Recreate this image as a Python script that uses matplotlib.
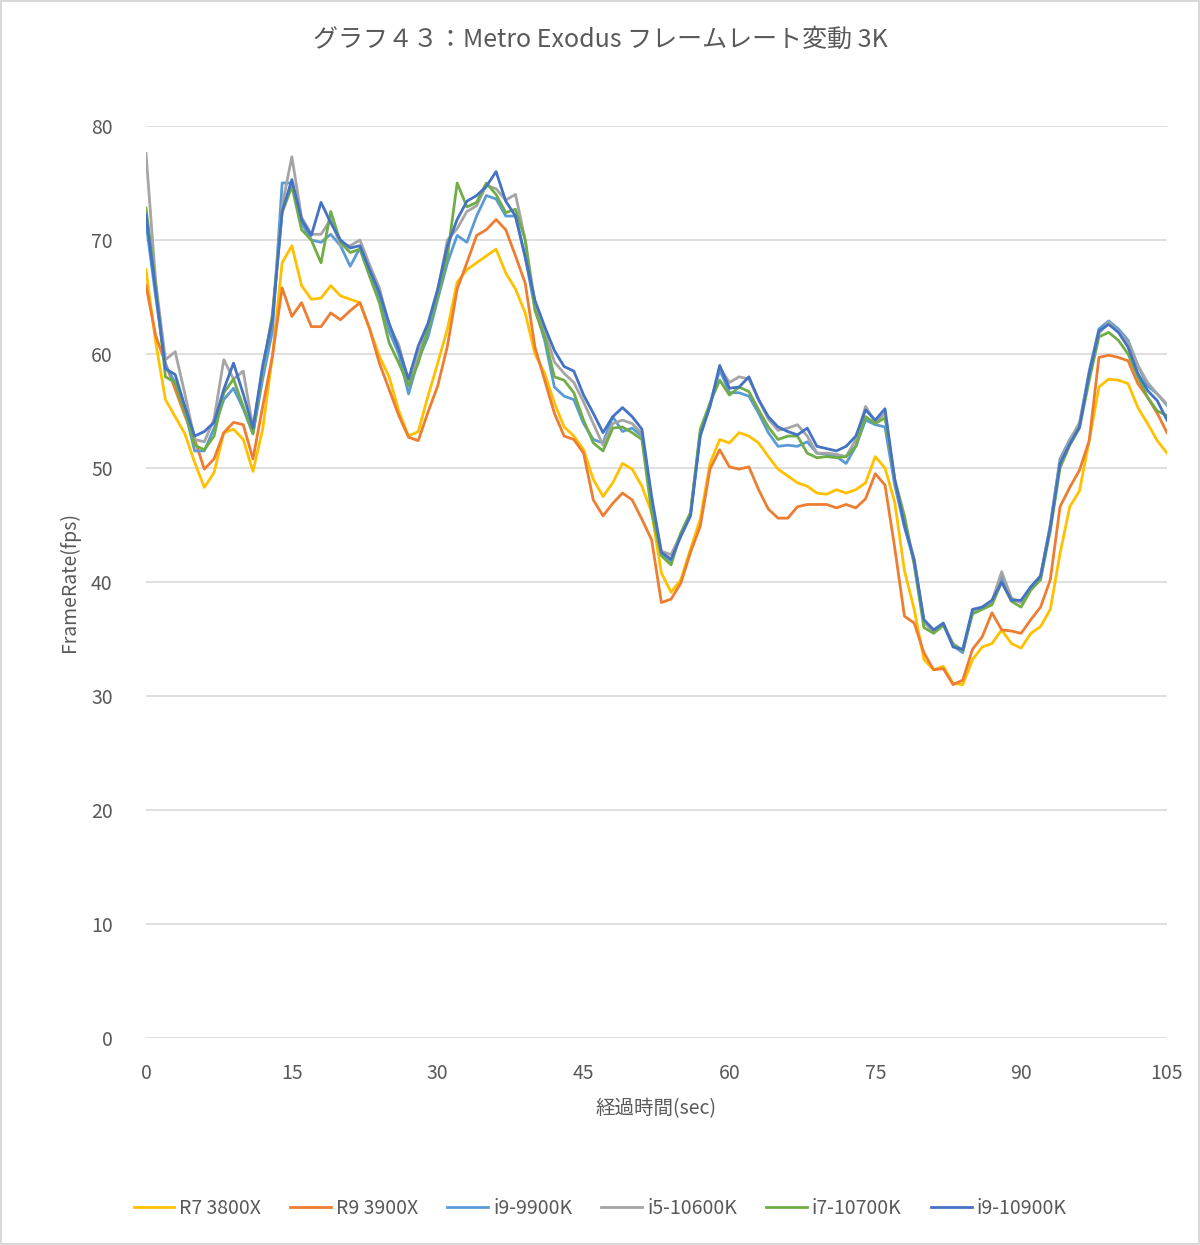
import matplotlib.pyplot as plt
import numpy as np

plt.rcParams['font.family'] = ['Noto Sans CJK JP', 'DejaVu Sans']

# elapsed time (sec), one sample per second
t = np.arange(0, 106)

r7_3800x = [67.4, 61, 56, 54.5, 53, 50.5, 48.3, 49.6, 53.1, 53.4,
            52.5, 49.7, 53.4, 59.8, 68, 69.5, 66, 64.8, 64.9, 66,
            65.1, 64.8, 64.5, 62.2, 59.8, 58, 55, 52.8, 53.2, 56.3,
            59.2, 62.2, 66.3, 67.4, 68, 68.6, 69.2, 67.1, 65.7, 63.6,
            60, 58.3, 55.7, 53.6, 52.8, 51.6, 49, 47.5, 48.7, 50.4,
            49.9, 48.4, 46.1, 40.8, 39.1, 40.2, 42.9, 45.5, 50.4, 52.5,
            52.2, 53.1, 52.8, 52.2, 51, 49.9, 49.3, 48.7, 48.4, 47.8,
            47.7, 48.1, 47.8, 48.1, 48.7, 51, 50, 47, 41, 37.6,
            33.2, 32.3, 32.6, 31.1, 31, 33.2, 34.3, 34.6, 35.8, 34.6,
            34.2, 35.5, 36.1, 37.6, 42.5, 46.6, 48, 52.4, 57.1, 57.8,
            57.7, 57.4, 55.3, 53.9, 52.4, 51.3]

r9_3900x = [66, 61.6, 59.2, 56.9, 54.6, 52.5, 49.9, 50.8, 53.1, 54,
            53.8, 50.8, 55.4, 59.8, 65.8, 63.3, 64.5, 62.4, 62.4, 63.6,
            63, 63.8, 64.5, 62.2, 59.2, 56.9, 54.6, 52.7, 52.4, 54.9,
            57.2, 60.7, 65.7, 68, 70.4, 70.9, 71.8, 70.9, 68.6, 66.2,
            60.6, 57.7, 54.8, 52.8, 52.5, 51.3, 47.2, 45.8, 46.9, 47.8,
            47.2, 45.5, 43.7, 38.2, 38.5, 39.9, 42.6, 44.9, 49.9, 51.6,
            50.1, 49.9, 50.1, 48.1, 46.4, 45.6, 45.6, 46.6, 46.8, 46.8,
            46.8, 46.5, 46.8, 46.5, 47.3, 49.5, 48.5, 43, 37, 36.4,
            33.8, 32.3, 32.4, 31, 31.4, 34.1, 35.2, 37.3, 35.8, 35.7,
            35.5, 36.7, 37.8, 40.2, 46.6, 48.3, 49.8, 52.4, 59.7, 59.9,
            59.7, 59.4, 57.4, 56.2, 54.8, 53.1]

i9_9900k = [71.5, 65, 59, 57.5, 55, 51.5, 51.5, 53.5, 56, 57,
            55.2, 53, 57.8, 62, 75, 75, 71.5, 70, 69.8, 70.5,
            69.5, 67.7, 69.3, 67, 65, 62, 60, 56.5, 59.5, 61.5,
            64.8, 68, 70.4, 69.8, 72.1, 73.9, 73.6, 72.1, 72.1, 68.5,
            64, 61.2, 57.1, 56.3, 56, 53.9, 52.5, 52.2, 54.5, 53.2,
            53.5, 52.8, 47, 42.5, 41.8, 44.2, 46, 53, 55.5, 58.6,
            56.6, 56.6, 56.3, 54.8, 53.1, 51.9, 52, 51.9, 52.3, 51.3,
            51.2, 51, 50.4, 51.9, 54.2, 53.8, 53.6, 48.5, 44.8, 41.8,
            36.5, 35.7, 36.3, 34.4, 33.8, 37.4, 37.8, 38.3, 40.5, 38.5,
            38.2, 39.5, 40.5, 45, 50.8, 52.5, 53.8, 58.5, 62.2, 62.9,
            62.2, 61.2, 59, 57.2, 56.5, 55.5]

i5_10600k = [77.6, 66.3, 59.5, 60.2, 56.5, 52.5, 52.3, 54.3, 59.5, 57.8,
             58.5, 53.5, 58.5, 63.5, 73, 77.3, 72, 70.5, 70.5, 71.8,
             69.5, 69.5, 70, 67.8, 65.8, 62.5, 60.8, 57.5, 60, 62.3,
             65.5, 70, 71, 72.5, 73, 74.8, 74.5, 73.5, 74, 70,
             64.5, 62, 59.3, 58.3, 57.5, 55.8, 53.9, 52, 53.9, 54.2,
             53.9, 53, 47, 42.7, 42.4, 44.2, 46, 53, 55.6, 58.8,
             57.5, 58, 57.8, 56, 54.3, 53.3, 53.5, 53.8, 52.8, 51.3,
             51.3, 51.2, 51, 52.5, 55.4, 54, 54.8, 48.8, 45.2, 42,
             36.5, 35.6, 36.3, 34.6, 34, 37.4, 37.8, 38.3, 40.9, 38.6,
             38.2, 39.5, 40.6, 45, 50.6, 52.4, 54, 58.3, 61.8, 62.8,
             62, 61, 59, 57.5, 56.5, 55.6]

i7_10700k = [72.8, 66, 58, 57.5, 54.9, 52, 51.6, 52.8, 56.6, 57.8,
             55.4, 53, 58.7, 63.3, 72.4, 74.7, 70.9, 70, 68, 72.5,
             69.8, 68.9, 69.2, 66.8, 64.5, 61, 59.2, 57.2, 59.2, 62.2,
             65.1, 68.6, 75, 72.9, 73.3, 75, 74, 72.4, 72.7, 70,
             63.8, 61.5, 58, 57.7, 56.6, 54.2, 52.2, 51.5, 53.5, 53.6,
             53.1, 52.5, 46.1, 42.3, 41.5, 44.3, 46.1, 53.4, 55.7, 57.7,
             56.4, 57.1, 56.7, 55.1, 53.6, 52.5, 52.8, 52.8, 51.3, 50.9,
             51, 50.9, 51, 51.9, 54.5, 53.9, 54.4, 49, 45.8, 41.5,
             36, 35.5, 36.2, 34.5, 34, 37.2, 37.6, 38, 40, 38.3,
             37.8, 39.3, 40.2, 44.5, 50, 52, 53.5, 57.7, 61.5, 61.9,
             61.2, 60, 58, 56.2, 55, 54.6]

i9_10900k = [72.2, 65.5, 58.7, 58.2, 55.4, 52.8, 53.2, 54, 56.9, 59.2,
             56.5, 53.5, 59, 63, 72.5, 75.3, 71.8, 70.4, 73.3, 71.5,
             70, 69.3, 69.5, 67.4, 65.4, 62.7, 60.4, 57.8, 60.7, 62.7,
             65.7, 69.5, 71.8, 73.4, 73.9, 74.7, 76, 73.4, 72.1, 68.5,
             64.7, 62.4, 60.3, 58.9, 58.5, 56.4, 54.8, 53.1, 54.5, 55.3,
             54.5, 53.4, 47.5, 42.6, 42, 44, 45.8, 52.8, 55.4, 59,
             57, 57.1, 58, 56, 54.5, 53.6, 53.2, 52.9, 53.5, 51.9,
             51.7, 51.5, 51.9, 52.8, 55.1, 54.2, 55.2, 49, 45, 41.9,
             36.7, 35.8, 36.4, 34.3, 34.1, 37.6, 37.8, 38.4, 40, 38.4,
             38.4, 39.6, 40.5, 44.8, 50.4, 52.1, 53.6, 58.3, 62, 62.6,
             61.9, 60.6, 58.3, 56.8, 55.9, 54.2]

names = ['R7 3800X', 'R9 3900X', 'i9-9900K', 'i5-10600K', 'i7-10700K', 'i9-10900K']
series = [r7_3800x, r9_3900x, i9_9900k, i5_10600k, i7_10700k, i9_10900k]
colors = ['#FFC000', '#ED7D31', '#5B9BD5', '#A5A5A5', '#70AD47', '#4472C4']

txt = '#595959'

fig = plt.figure(figsize=(12, 12.45), dpi=100)
fig.patch.set_edgecolor('#d9d9d9')
fig.patch.set_linewidth(1.5)
ax = fig.add_axes([146/1200, 1 - 1038/1245, 1021/1200, 912/1245])

for y, name, c in zip(series, names, colors):
    ax.plot(t, y, color=c, lw=2.0, label=name)

ax.set_xlim(0, 105)
ax.set_ylim(0, 80)
ax.set_xticks(range(0, 106, 15))
ax.set_yticks(range(0, 81, 10))
ax.grid(axis='y', color='#d9d9d9', lw=1.2)
ax.set_axisbelow(True)
for s in ax.spines.values():
    s.set_visible(False)
ax.tick_params(length=0, labelsize=14, colors=txt)
ax.tick_params(axis='x', pad=18)
ax.tick_params(axis='y', pad=24)

ax.set_xlabel('経過時間(sec)', fontsize=14, color=txt, labelpad=10)
ax.set_ylabel('FrameRate(fps)', fontsize=14, color=txt, labelpad=8)
fig.text(0.5, 1 - 40/1245, 'グラフ４３：Metro Exodus フレームレート変動 3K',
         ha='center', va='center', fontsize=18, color=txt)

fig.legend(loc='center', bbox_to_anchor=(0.5, 1 - 1208/1245), ncol=6,
           frameon=False, fontsize=14, labelcolor=txt, handlelength=2.1,
           handletextpad=0.25, columnspacing=1.5)

fig.savefig('out.png', dpi=100)
